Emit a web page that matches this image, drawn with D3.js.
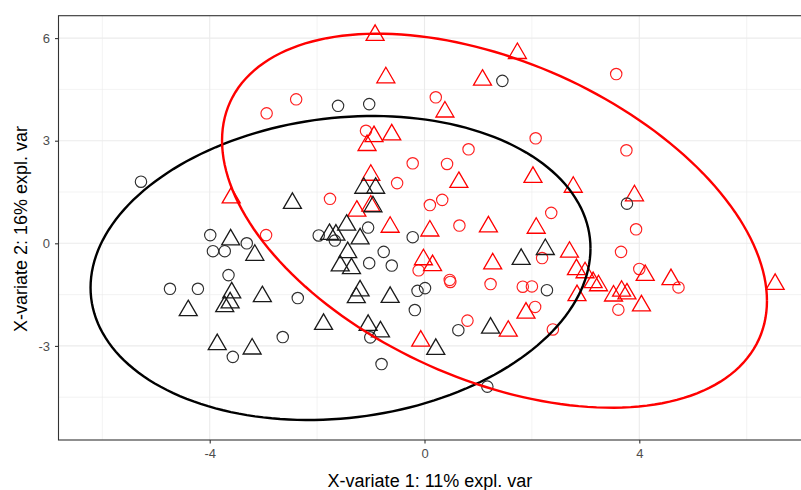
<!DOCTYPE html>
<html><head><meta charset="utf-8">
<script src="https://cdn.jsdelivr.net/npm/d3@7"></script>
<style>body{margin:0;background:#fff}svg{display:block}text{font-family:"Liberation Sans",Arial,sans-serif}</style>
</head><body><svg id="c" width="801" height="490"></svg>
<script>
// ---- data ----
const xTicks = [-4, 0, 4];
const yTicks = [-3, 0, 3, 6];
const xMinor = [-6, -2, 2, 6];
const yMinor = [-4.5, -1.5, 1.5, 4.5];
const xTitle = "X-variate 1: 11% expl. var";
const yTitle = "X-variate 2: 16% expl. var";

const blackCircles = [[-5.28,1.80],[-1.61,4.02],[-1.03,4.07],[1.45,4.75],[3.77,1.16],[-3.99,0.24],[-3.31,0.00],[-3.94,-0.23],[-3.72,-0.23],[-3.65,-0.93],[-4.74,-1.33],[-4.22,-1.33],[-2.36,-1.60],[-2.64,-2.74],[-3.57,-3.32],[-1.97,0.23],[-1.67,0.08],[-1.05,0.46],[-0.22,0.18],[-0.76,-0.25],[-1.03,-0.58],[-0.61,-0.65],[-0.13,-1.39],[0.01,-1.31],[-0.18,-1.95],[-1.01,-2.75],[-0.80,-3.53],[0.63,-2.54],[1.17,-4.19],[2.28,-1.37]];
const blackTriangles = [[-2.46,1.25],[-3.61,0.18],[-3.16,-0.27],[-4.40,-1.89],[-3.59,-1.37],[-3.62,-1.66],[-3.72,-1.77],[-3.02,-1.48],[-3.86,-2.88],[-3.21,-3.01],[-1.13,1.69],[-0.91,1.69],[-0.96,1.15],[-1.45,0.61],[-1.77,0.34],[-1.65,0.32],[-1.20,0.21],[-1.43,-0.19],[-1.57,-0.58],[-1.36,-0.66],[-1.20,-1.31],[-1.27,-1.51],[-0.64,-1.50],[-1.88,-2.29],[-1.05,-2.32],[-0.82,-2.51],[0.21,-3.02],[1.23,-2.40],[1.80,-0.39],[2.25,-0.10]];
const redCircles = [[-2.94,3.80],[-2.39,4.21],[0.21,4.27],[-1.09,3.29],[2.07,3.07],[3.57,4.95],[3.76,2.72],[0.82,2.75],[-0.22,2.34],[0.42,2.32],[-0.51,1.76],[-1.76,1.30],[0.10,1.12],[0.33,1.27],[2.36,0.89],[3.94,0.41],[-2.95,0.24],[0.65,0.52],[3.66,-0.25],[2.19,-0.43],[4.00,-0.75],[-0.11,-0.79],[0.47,-1.07],[0.48,-1.13],[1.23,-1.19],[1.83,-1.27],[2.00,-1.26],[2.06,-1.86],[4.73,-1.29],[3.61,-1.94],[0.80,-2.26],[2.39,-2.52]];
const redTriangles = [[-0.92,6.16],[-0.72,4.92],[1.73,5.63],[1.08,4.85],[0.38,3.92],[-0.94,3.20],[-0.61,3.25],[-1.07,2.94],[-3.60,1.41],[-1.00,2.07],[0.64,1.86],[2.02,2.01],[2.77,1.72],[3.91,1.47],[-1.26,1.02],[-1.00,1.17],[-0.64,0.55],[0.10,0.44],[1.19,0.56],[2.08,0.52],[2.70,-0.18],[-0.02,-0.40],[0.15,-0.57],[1.27,-0.52],[2.83,-0.69],[2.99,-0.78],[3.14,-1.07],[3.24,-1.16],[4.11,-0.86],[4.59,-0.98],[6.53,-1.12],[2.84,-1.45],[3.52,-1.46],[3.67,-1.32],[3.77,-1.40],[4.04,-1.75],[1.89,-1.96],[1.56,-2.49],[-0.07,-2.78]];

// ellipse parameters: centre x, centre y, x half-extent, y half-extent, cross term
const ellipseBlack = [-1.564, -0.722, 4.655, 4.444, 2.668];
const ellipseRed = [1.3035, 0.661, 5.074, 5.468, -11.897];

// ---- layout ----
const pL = 58.5, pR = 802, pT = 15.7, pB = 440;
const svg = d3.select("#c");
const x = d3.scaleLinear().domain([-6.816, 7.030]).range([pL, pR]);
const y = d3.scaleLinear().domain([-5.751, 6.655]).range([pB, pT]);

// grid
const grid = svg.append("g");
grid.selectAll(".vmin").data(xMinor).enter().append("line")
  .attr("x1", d => x(d)).attr("x2", d => x(d)).attr("y1", pT).attr("y2", pB)
  .attr("stroke", "#EBEBEB").attr("stroke-width", 0.6);
grid.selectAll(".hmin").data(yMinor).enter().append("line")
  .attr("y1", d => y(d)).attr("y2", d => y(d)).attr("x1", pL).attr("x2", pR)
  .attr("stroke", "#EBEBEB").attr("stroke-width", 0.6);
grid.selectAll(".vmaj").data(xTicks).enter().append("line")
  .attr("x1", d => x(d)).attr("x2", d => x(d)).attr("y1", pT).attr("y2", pB)
  .attr("stroke", "#EBEBEB").attr("stroke-width", 1.1);
grid.selectAll(".hmaj").data(yTicks).enter().append("line")
  .attr("y1", d => y(d)).attr("y2", d => y(d)).attr("x1", pL).attr("x2", pR)
  .attr("stroke", "#EBEBEB").attr("stroke-width", 1.1);

// clip
svg.append("clipPath").attr("id", "clip").append("rect")
  .attr("x", pL).attr("y", pT).attr("width", pR - pL).attr("height", pB - pT);
const plot = svg.append("g").attr("clip-path", "url(#clip)");

const triW = 18, triH = 15.5;
const triPath = `M0,${-triH/2}L${triW/2},${triH/2}L${-triW/2},${triH/2}Z`;

function drawCircles(data, col) {
  plot.append("g").selectAll("circle").data(data).enter().append("circle")
    .attr("cx", d => x(d[0])).attr("cy", d => y(d[1])).attr("r", 5.7)
    .attr("fill", "none").attr("stroke", col).attr("stroke-width", 1.15);
}
function drawTriangles(data, col) {
  plot.append("g").selectAll("path").data(data).enter().append("path")
    .attr("d", triPath)
    .attr("transform", d => `translate(${x(d[0])},${y(d[1])})`)
    .attr("fill", "none").attr("stroke", col).attr("stroke-width", 1.3)
    .attr("stroke-linejoin", "miter");
}
drawCircles(redCircles, "#FF2020");
drawTriangles(redTriangles, "#FF0000");
drawCircles(blackCircles, "#303030");
drawTriangles(blackTriangles, "#1a1a1a");

function ellipsePts(p) {
  const [cx, cy, sx, sy, c] = p;
  const l21 = c / sx, l22 = Math.sqrt(sy * sy - l21 * l21);
  return d3.range(0, 361, 2).map(a => {
    const t = a * Math.PI / 180;
    return [cx + sx * Math.cos(t), cy + l21 * Math.cos(t) + l22 * Math.sin(t)];
  });
}
const line = d3.line().x(d => x(d[0])).y(d => y(d[1]));
plot.append("path").datum(ellipsePts(ellipseBlack)).attr("d", line)
  .attr("fill", "none").attr("stroke", "#000").attr("stroke-width", 2.4);
plot.append("path").datum(ellipsePts(ellipseRed)).attr("d", line)
  .attr("fill", "none").attr("stroke", "#FF0000").attr("stroke-width", 2.4);

// border
svg.append("rect").attr("x", pL).attr("y", pT).attr("width", pR - pL).attr("height", pB - pT)
  .attr("fill", "none").attr("stroke", "#333333").attr("stroke-width", 1.1);

// axes
const xAxis = svg.append("g").attr("transform", `translate(0,${pB})`)
  .call(d3.axisBottom(x).tickValues(xTicks).tickSize(3.5).tickPadding(5).tickFormat(d3.format("d")));
const yAxis = svg.append("g").attr("transform", `translate(${pL},0)`)
  .call(d3.axisLeft(y).tickValues(yTicks).tickSize(3.5).tickPadding(5).tickFormat(d3.format("d")));
[xAxis, yAxis].forEach(a => {
  a.select(".domain").remove();
  a.selectAll(".tick line").attr("stroke", "#333333").attr("stroke-width", 1.1);
  a.selectAll(".tick text").attr("fill", "#4D4D4D").style("font-size", "13px")
    .style("font-family", '"Liberation Sans", Arial, sans-serif');
});
xAxis.selectAll(".tick text").text(d => d < 0 ? "-" + Math.abs(d) : d);
yAxis.selectAll(".tick text").text(d => d < 0 ? "-" + Math.abs(d) : d);

svg.append("text").attr("x", 430).attr("y", 487).attr("text-anchor", "middle")
  .style("font-size", "18px").attr("fill", "#000").text(xTitle);
svg.append("text").attr("transform", `translate(27,${229}) rotate(-90)`)
  .attr("text-anchor", "middle").style("font-size", "18px").attr("fill", "#000").text(yTitle);
</script></body></html>
